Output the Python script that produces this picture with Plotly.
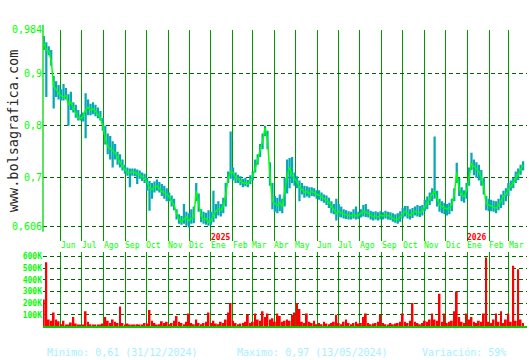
import plotly.graph_objects as go
import pandas as pd

W, H = 530, 360

# ---------------- data ----------------
start_date = "2024-05-08"
step = "84h"  # two samples per week

close = [
    0.958, 0.945, 0.942, 0.925, 0.875, 0.870, 0.862, 0.857, 0.855, 0.858,
    0.840, 0.845, 0.833, 0.825, 0.815, 0.814, 0.818, 0.830, 0.835, 0.830,
    0.832, 0.828, 0.822, 0.815, 0.800, 0.775, 0.760, 0.755, 0.752, 0.748,
    0.738, 0.730, 0.722, 0.716, 0.710, 0.710, 0.712, 0.710, 0.708, 0.706,
    0.702, 0.698, 0.692, 0.680, 0.678, 0.683, 0.684, 0.680, 0.674, 0.672,
    0.668, 0.664, 0.655, 0.648, 0.632, 0.620, 0.616, 0.620, 0.625, 0.618,
    0.622, 0.624, 0.675, 0.650, 0.628, 0.620, 0.622, 0.615, 0.618, 0.628,
    0.636, 0.640, 0.638, 0.645, 0.668, 0.700, 0.712, 0.710, 0.700, 0.698,
    0.694, 0.690, 0.690, 0.688, 0.695, 0.703, 0.718, 0.735, 0.750, 0.770,
    0.795, 0.775, 0.705, 0.655, 0.650, 0.648, 0.652, 0.645, 0.675, 0.705,
    0.720, 0.705, 0.698, 0.692, 0.682, 0.678, 0.672, 0.674, 0.670, 0.674,
    0.672, 0.668, 0.667, 0.663, 0.660, 0.657, 0.653, 0.645, 0.640, 0.632,
    0.636, 0.632, 0.630, 0.629, 0.628, 0.627, 0.630, 0.627, 0.628, 0.632,
    0.636, 0.634, 0.632, 0.628, 0.626, 0.627, 0.625, 0.628, 0.627, 0.629,
    0.627, 0.626, 0.622, 0.620, 0.620, 0.626, 0.632, 0.636, 0.632, 0.628,
    0.632, 0.636, 0.634, 0.633, 0.636, 0.645, 0.652, 0.660, 0.668, 0.675,
    0.660, 0.648, 0.645, 0.642, 0.640, 0.642, 0.648, 0.668, 0.710, 0.680,
    0.668, 0.664, 0.675, 0.700, 0.728, 0.722, 0.716, 0.712, 0.700, 0.682,
    0.650, 0.648, 0.646, 0.644, 0.642, 0.648, 0.655, 0.665, 0.668, 0.678,
    0.685, 0.690, 0.700, 0.706, 0.716, 0.724,
]

high = [
    0.972, 0.960, 0.952, 0.945, 0.895, 0.885, 0.878, 0.870, 0.880, 0.872,
    0.860, 0.865, 0.845, 0.840, 0.830, 0.822, 0.825, 0.862, 0.850, 0.842,
    0.845, 0.840, 0.835, 0.828, 0.815, 0.800, 0.785, 0.780, 0.770, 0.765,
    0.750, 0.745, 0.735, 0.725, 0.720, 0.718, 0.718, 0.718, 0.716, 0.714,
    0.710, 0.708, 0.700, 0.694, 0.690, 0.693, 0.697, 0.692, 0.688, 0.685,
    0.680, 0.672, 0.666, 0.660, 0.640, 0.630, 0.627, 0.650, 0.635, 0.632,
    0.640, 0.645, 0.690, 0.670, 0.640, 0.635, 0.633, 0.638, 0.635, 0.675,
    0.650, 0.655, 0.650, 0.662, 0.690, 0.712, 0.789, 0.720, 0.710, 0.706,
    0.703, 0.698, 0.700, 0.696, 0.705, 0.712, 0.735, 0.745, 0.765, 0.785,
    0.800, 0.790, 0.730, 0.690, 0.665, 0.662, 0.668, 0.660, 0.700, 0.735,
    0.738, 0.740, 0.710, 0.703, 0.695, 0.690, 0.685, 0.684, 0.682, 0.682,
    0.680, 0.676, 0.676, 0.672, 0.668, 0.666, 0.662, 0.655, 0.650, 0.660,
    0.650, 0.645, 0.640, 0.638, 0.636, 0.635, 0.640, 0.645, 0.635, 0.640,
    0.648, 0.650, 0.640, 0.637, 0.635, 0.636, 0.634, 0.636, 0.634, 0.637,
    0.635, 0.634, 0.632, 0.630, 0.632, 0.636, 0.642, 0.646, 0.646, 0.640,
    0.642, 0.645, 0.648, 0.646, 0.648, 0.658, 0.664, 0.672, 0.680, 0.779,
    0.675, 0.660, 0.655, 0.652, 0.650, 0.652, 0.660, 0.680, 0.729, 0.700,
    0.682, 0.676, 0.690, 0.720, 0.748, 0.735, 0.730, 0.725, 0.715, 0.700,
    0.665, 0.660, 0.658, 0.656, 0.655, 0.660, 0.668, 0.675, 0.680, 0.690,
    0.695, 0.700, 0.712, 0.718, 0.725, 0.732,
]

low = [
    0.945, 0.855, 0.935, 0.915, 0.833, 0.855, 0.850, 0.848, 0.848, 0.850,
    0.800, 0.830, 0.825, 0.815, 0.810, 0.810, 0.808, 0.776, 0.820, 0.820,
    0.822, 0.818, 0.814, 0.810, 0.790, 0.764, 0.745, 0.735, 0.720, 0.735,
    0.725, 0.720, 0.714, 0.708, 0.704, 0.682, 0.704, 0.703, 0.688, 0.698,
    0.694, 0.690, 0.675, 0.637, 0.660, 0.672, 0.675, 0.672, 0.665, 0.660,
    0.655, 0.655, 0.645, 0.638, 0.620, 0.612, 0.610, 0.612, 0.608, 0.605,
    0.612, 0.613, 0.655, 0.635, 0.615, 0.612, 0.610, 0.608, 0.610, 0.615,
    0.622, 0.628, 0.626, 0.632, 0.645, 0.690, 0.698, 0.695, 0.690, 0.690,
    0.686, 0.682, 0.684, 0.682, 0.688, 0.695, 0.710, 0.725, 0.740, 0.755,
    0.780, 0.755, 0.685, 0.640, 0.635, 0.632, 0.636, 0.632, 0.645, 0.670,
    0.680, 0.690, 0.685, 0.680, 0.655, 0.668, 0.662, 0.664, 0.662, 0.665,
    0.664, 0.660, 0.658, 0.655, 0.652, 0.648, 0.642, 0.632, 0.630, 0.618,
    0.625, 0.624, 0.622, 0.621, 0.620, 0.620, 0.622, 0.620, 0.621, 0.624,
    0.626, 0.625, 0.624, 0.620, 0.618, 0.620, 0.618, 0.620, 0.620, 0.622,
    0.620, 0.619, 0.616, 0.614, 0.612, 0.616, 0.622, 0.626, 0.622, 0.620,
    0.623, 0.628, 0.626, 0.625, 0.628, 0.636, 0.640, 0.648, 0.655, 0.660,
    0.645, 0.635, 0.632, 0.630, 0.628, 0.630, 0.636, 0.655, 0.690, 0.665,
    0.655, 0.652, 0.660, 0.685, 0.715, 0.705, 0.700, 0.695, 0.685, 0.668,
    0.638, 0.636, 0.636, 0.635, 0.632, 0.638, 0.642, 0.648, 0.655, 0.665,
    0.675, 0.680, 0.690, 0.696, 0.706, 0.714,
]

volume_k = [
    230, 550, 60, 50, 120, 60, 45, 20, 50, 10,
    15, 35, 80, 25, 10, 10, 15, 130, 40, 20,
    10, 10, 15, 10, 25, 80, 50, 30, 60, 40,
    30, 170, 30, 15, 25, 10, 15, 10, 20, 15,
    15, 30, 25, 140, 50, 30, 15, 20, 45, 30,
    40, 20, 30, 50, 90, 40, 30, 20, 40, 110,
    30, 20, 60, 30, 20, 30, 40, 120, 30, 50,
    25, 20, 40, 30, 60, 120, 200, 50, 30, 20,
    25, 30, 40, 100, 30, 40, 110, 60, 50, 130,
    80, 110, 60, 70, 40, 110, 90, 40, 50, 60,
    50, 100, 120, 200, 150, 40, 30, 110, 40, 30,
    50, 20, 30, 20, 40, 25, 20, 30, 40, 100,
    30, 20, 40, 60, 30, 20, 30, 40, 25, 30,
    80, 110, 30, 20, 25, 30, 40, 100, 30, 20,
    15, 30, 20, 25, 30, 40, 110, 40, 30, 50,
    200, 40, 30, 20, 30, 50, 40, 60, 110, 60,
    50, 280, 40, 110, 30, 40, 50, 130, 300, 80,
    40, 30, 110, 60, 80, 40, 30, 50, 40, 110,
    590, 40, 30, 60, 110, 40, 130, 30, 60, 110,
    40, 520, 50, 490, 60, 30,
]

price_ticks = [0.606, 0.7, 0.8, 0.9, 0.984]
price_tick_labels = ["0,606", "0,7", "0,8", "0,9", "0,984"]
vol_ticks = [100000, 200000, 300000, 400000, 500000, 600000]
vol_tick_labels = ["100K", "200K", "300K", "400K", "500K", "600K"]
month_labels = ["Jun", "Jul", "Ago", "Sep", "Oct", "Nov", "Dic", "Ene", "Feb", "Mar", "Abr",
                "May", "Jun", "Jul", "Ago", "Sep", "Oct", "Nov", "Dic", "Ene", "Feb", "Mar"]
year_labels = ["2025", "2026"]
year_dates = ["2025-01-01", "2026-01-01"]
footer_texts = ["Minimo: 0,61 (31/12/2024)", "Maximo: 0,97 (13/05/2024)", "Variación: 59%"]
watermark = "www.bolsagrafica.com"

# ---------------- figure ----------------
dates = pd.date_range(start_date, periods=len(close), freq=step)
month_starts = pd.date_range("2024-06-01", periods=len(month_labels), freq="MS")
spans = [h - l for h, l in zip(high, low)]
volume = [v * 1000 for v in volume_k]

def px(x):
    return x / W

def py(y):
    return 1 - y / H

MONO = "DejaVu Sans Mono"
TEAL = "#05a8b4"
LIME = "#00ff00"
GRID_V = "#009900"
GRID_H = "#006400"
DAY_MS = 86400000

fig = go.Figure()
fig.add_trace(go.Bar(x=dates, y=spans, base=low, width=3.2 * DAY_MS,
                     marker=dict(color=TEAL, line=dict(width=0)),
                     xaxis="x", yaxis="y", hoverinfo="skip"))
fig.add_trace(go.Scatter(x=dates, y=close, mode="lines",
                         line=dict(color=LIME, width=1.5),
                         xaxis="x", yaxis="y"))
fig.add_trace(go.Bar(x=dates, y=volume, width=2.6 * DAY_MS,
                     marker=dict(color="#ff0000", line=dict(width=0)),
                     xaxis="x2", yaxis="y2"))

x_range = ["2024-05-06 19:00", "2026-03-27 01:30"]
xcommon = dict(range=x_range, domain=[px(43), px(527)], showticklabels=False,
               showgrid=True, gridcolor=GRID_V, gridwidth=1,
               tick0="2024-06-01", dtick="M1", ticks="", zeroline=False)

fig.update_layout(
    width=W, height=H,
    margin=dict(l=0, r=0, t=0, b=0),
    paper_bgcolor="white", plot_bgcolor="white",
    showlegend=False, barmode="overlay",
    xaxis=dict(**xcommon, anchor="y", showline=False),
    xaxis2=dict(**xcommon, anchor="y2", matches="x",
                showline=True, linecolor="#00cc00", linewidth=1.5),
    yaxis=dict(domain=[py(239), py(25)], range=[0.984 - 214 / 529.1, 0.984],
               tickvals=price_ticks, ticktext=price_tick_labels,
               showgrid=True, gridcolor=GRID_H, gridwidth=1, griddash="4px,3px",
               ticks="", zeroline=False, showline=False,
               tickfont=dict(family=MONO, size=10, color=LIME)),
    yaxis2=dict(domain=[py(326), py(250)], range=[0, 641000],
                tickvals=vol_ticks, ticktext=vol_tick_labels,
                showgrid=True, gridcolor=GRID_H, gridwidth=1, griddash="4px,3px",
                ticks="", zeroline=False, showline=False,
                tickfont=dict(family=MONO, size=8, color=LIME, weight="bold")),
)

# left axis line of the price panel
fig.add_shape(type="line", xref="paper", yref="paper",
              x0=px(43), x1=px(43), y0=py(230), y1=py(20),
              line=dict(color="#22dd22", width=1.5))

annotations = []
for d, lab in zip(month_starts, month_labels):
    annotations.append(dict(x=d, xref="x", y=py(243.5), yref="paper",
                            text=lab, showarrow=False, xanchor="left", yanchor="middle",
                            xshift=-2, font=dict(family=MONO, size=8, color=LIME)))
for d, lab in zip(year_dates, year_labels):
    annotations.append(dict(x=d, xref="x", y=py(235.5), yref="paper",
                            text=lab, showarrow=False, xanchor="left", yanchor="middle",
                            xshift=-2, font=dict(family=MONO, size=8, color="#ff0000",
                                                 weight="bold")))
for xpos, txt in zip([45, 235, 420], footer_texts):
    annotations.append(dict(x=px(xpos), xref="paper", y=py(352), yref="paper",
                            text=txt, showarrow=False, xanchor="left", yanchor="middle",
                            font=dict(family=MONO, size=10, color="#a6efff")))
annotations.append(dict(x=px(13), xref="paper", y=py(128), yref="paper",
                        text=watermark, textangle=-90, showarrow=False,
                        xanchor="center", yanchor="middle",
                        font=dict(family=MONO, size=13.5, color="#2a2a2a")))
fig.update_layout(annotations=annotations)

fig.write_html("out.html")
